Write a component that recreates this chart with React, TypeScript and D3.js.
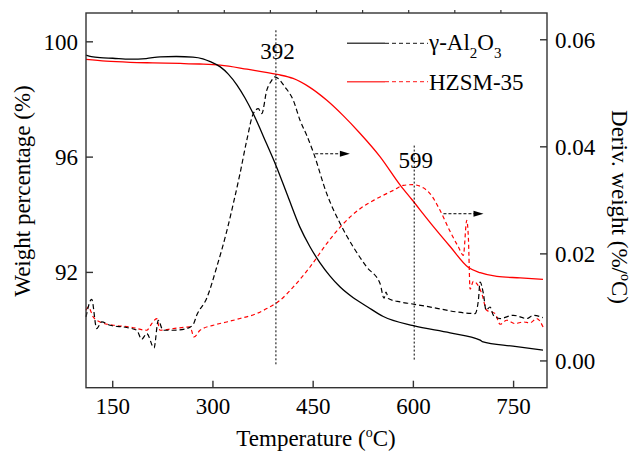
import React from 'react';
import * as d3 from 'd3';

const W = 634;
const H = 451;
const FONT = '"Liberation Serif", "Times New Roman", Times, serif';

// axis ticks
const xTicks = [150, 300, 450, 600, 750];
const yLeftTicks = [92, 96, 100];
const yRightTicks = [0, 0.02, 0.04, 0.06];
const yRightLabels = ['0.00', '0.02', '0.04', '0.06'];
const topDivisions = [1, 2, 3, 4, 5, 6, 7, 8, 9];

// γ-Al2O3 TG (weight %, left axis)
const alTgT = [110, 118, 131, 150, 176, 200, 221, 245, 270, 285, 296, 311, 323, 336, 348, 360, 380, 394, 412, 430, 445, 460, 475, 490, 510, 531, 555, 600, 655, 700, 703, 749, 794];
const alTgW = [99.54, 99.49, 99.45, 99.43, 99.40, 99.42, 99.48, 99.49, 99.47, 99.41, 99.31, 99.13, 98.88, 98.50, 98.05, 97.52, 96.48, 95.73, 94.65, 93.58, 92.90, 92.34, 91.88, 91.50, 91.12, 90.81, 90.47, 90.15, 89.90, 89.65, 89.60, 89.44, 89.30];

// HZSM-35 TG (weight %, left axis)
const hzTgT = [110, 140, 176, 210, 251, 280, 311, 351, 396, 420, 445, 470, 495, 520, 550, 580, 598, 630, 655, 682, 700, 725, 760, 794];
const hzTgW = [99.39, 99.33, 99.29, 99.27, 99.25, 99.23, 99.19, 99.05, 98.87, 98.73, 98.42, 97.98, 97.44, 96.83, 96.02, 95.04, 94.52, 93.59, 92.90, 92.18, 91.99, 91.86, 91.81, 91.76];

// γ-Al2O3 DTG (%/°C, right axis)
const alDtgT = [110, 118.5, 126, 133.5, 146, 171, 186, 193.4, 201, 211.8, 218.2, 225.3, 240.7, 260.7, 270.6, 275.7, 290.7, 305.7, 320.6, 330.5, 340.5, 350.6, 360.4, 367.9, 373, 380.5, 388, 392, 396, 408, 420.3, 430.4, 440.4, 450.3, 470.3, 490.2, 510.1, 530.1, 550.1, 556.1, 559.1, 562.6, 580.1, 595, 629.9, 664.9, 692.3, 697.3, 699.8, 704.8, 708.8, 714.8, 719.7, 729.8, 749.7, 769.7, 779.6, 793.7];
const alDtgD = [0.00821, 0.01152, 0.00605, 0.00728, 0.00667, 0.00624, 0.00573, 0.00405, 0.00512, 0.00243, 0.0076, 0.00573, 0.00573, 0.00605, 0.00685, 0.00853, 0.01171, 0.01755, 0.02421, 0.02939, 0.03499, 0.0412, 0.04619, 0.04712, 0.04619, 0.05054, 0.05241, 0.05306, 0.05290, 0.05116, 0.04868, 0.04494, 0.04214, 0.03896, 0.03125, 0.02571, 0.02128, 0.01755, 0.01445, 0.01171, 0.01288, 0.01165, 0.01102, 0.01072, 0.00997, 0.00915, 0.00885, 0.01133, 0.01475, 0.01258, 0.00947, 0.01008, 0.00853, 0.00792, 0.00853, 0.00792, 0.00853, 0.0081];

// HZSM-35 DTG (%/°C, right axis)
const hzDtgT = [110, 113.4, 120.9, 131, 150.9, 175.9, 200.9, 208.4, 215.8, 220.8, 240.7, 265.7, 271.7, 280.7, 300.6, 320.6, 340.5, 365.5, 380.5, 400.4, 420.3, 445.3, 470.3, 495.2, 520.2, 545.2, 570, 585, 599, 614.9, 624.9, 639.9, 654.9, 667.4, 674.8, 679.9, 682.3, 684.9, 689.8, 694.9, 702.4, 709.8, 722.3, 729.8, 739.8, 752.2, 764.7, 774.7, 784.7, 794.1];
const hzDtgD = [0.00947, 0.01008, 0.00821, 0.00728, 0.00667, 0.00635, 0.00573, 0.00698, 0.00792, 0.00573, 0.00605, 0.00635, 0.00448, 0.00573, 0.00667, 0.00728, 0.00792, 0.00885, 0.00978, 0.01133, 0.01382, 0.01755, 0.02192, 0.02565, 0.02845, 0.03032, 0.03187, 0.0328, 0.03293, 0.03234, 0.03125, 0.02814, 0.02421, 0.02128, 0.01973, 0.02627, 0.02309, 0.01339, 0.01488, 0.01445, 0.01258, 0.00947, 0.00885, 0.00685, 0.0076, 0.00698, 0.00728, 0.00713, 0.00792, 0.00635];

// peak annotations
const peakTemps = [392, 599];
const peakLabels = ['392', '599'];
const peakLineTopW = [100.4, 96.4];
const peakLineBottomD = [-0.0010, 0.0000];
// arrows pointing to the right axis
const arrowStartT = [453, 645];
const arrowEndT = [505, 705];
const arrowD = [0.0387, 0.0275];

const M = { left: 86, right: 547, top: 13, bottom: 387.7 };

export default function App() {
  const x = d3.scaleLinear().domain([110, 800]).range([M.left, M.right]);
  const yL = d3.scaleLinear().domain([88, 101]).range([M.bottom, M.top]);
  const yR = d3.scaleLinear().domain([-0.005, 0.065]).range([M.bottom, M.top]);
  const xTop = d3.scaleLinear().domain([0, 10]).range([M.left, M.right]);

  const lineL = (T: number[], V: number[]) =>
    d3.line<number>().curve(d3.curveMonotoneX).x((_, i) => x(T[i])).y((_, i) => yL(V[i]))(T) || '';
  const lineR = (T: number[], V: number[]) =>
    d3.line<number>().curve(d3.curveMonotoneX).x((_, i) => x(T[i])).y((_, i) => yR(V[i]))(T) || '';

  const axisColor = '#333';
  const tick = 7;
  const fs = 23;

  return (
    <svg width={W} height={H} style={{ position: 'absolute', left: 0, top: 0, background: '#fff' }} fontFamily={FONT}>
      <rect x={0} y={0} width={W} height={H} fill="#fff" />
      {/* curves */}
      <path d={lineL(hzTgT, hzTgW)} fill="none" stroke="#ff0000" strokeWidth={1.3} />
      <path d={lineL(alTgT, alTgW)} fill="none" stroke="#000" strokeWidth={1.3} />
      <path d={lineR(hzDtgT, hzDtgD)} fill="none" stroke="#ff0000" strokeWidth={1.2} strokeDasharray="4,3" />
      <path d={lineR(alDtgT, alDtgD)} fill="none" stroke="#000" strokeWidth={1.2} strokeDasharray="5,3" />

      {/* peak markers */}
      {peakTemps.map((t, i) => (
        <g key={'pk' + i}>
          <line x1={x(t) + 1.5} x2={x(t) + 1.5} y1={yL(peakLineTopW[i])} y2={yR(peakLineBottomD[i])} stroke="#000" strokeWidth={1} strokeDasharray="2,2" />
          <text x={x(t) + 3} y={i === 0 ? 59 : 168} fontSize={fs} textAnchor="middle" fill="#000">{peakLabels[i]}</text>
        </g>
      ))}

      {/* arrows */}
      {arrowStartT.map((t, i) => {
        const xs = x(t), xe = x(arrowEndT[i]), yy = yR(arrowD[i]);
        return (
          <g key={'ar' + i}>
            <line x1={xs} x2={xe - 8} y1={yy} y2={yy} stroke="#000" strokeWidth={1} strokeDasharray="3,2" />
            <path d={`M${xe},${yy} L${xe - 10},${yy - 3} L${xe - 10},${yy + 3} Z`} fill="#000" />
          </g>
        );
      })}

      {/* frame */}
      <rect x={M.left} y={M.top} width={M.right - M.left} height={M.bottom - M.top} fill="none" stroke={axisColor} strokeWidth={1.4} />

      {/* bottom axis */}
      {xTicks.map((t) => (
        <g key={'xt' + t}>
          <line x1={x(t)} x2={x(t)} y1={M.bottom} y2={M.bottom - tick} stroke={axisColor} strokeWidth={1.4} />
          <text x={x(t)} y={414} fontSize={fs} textAnchor="middle" fill="#000">{t}</text>
        </g>
      ))}
      {/* top axis ticks */}
      {topDivisions.map((t) => (
        <line key={'tt' + t} x1={xTop(t)} x2={xTop(t)} y1={M.top} y2={M.top - 3} stroke={axisColor} strokeWidth={1.2} />
      ))}
      {/* left axis */}
      {yLeftTicks.map((v) => (
        <g key={'yl' + v}>
          <line x1={M.left} x2={M.left + tick} y1={yL(v)} y2={yL(v)} stroke={axisColor} strokeWidth={1.4} />
          <text x={78} y={yL(v) + 7.8} fontSize={fs} textAnchor="end" fill="#000">{v}</text>
        </g>
      ))}
      {/* right axis */}
      {yRightTicks.map((v, i) => (
        <g key={'yr' + v}>
          <line x1={M.right} x2={M.right - tick} y1={yR(v)} y2={yR(v)} stroke={axisColor} strokeWidth={1.4} />
          <text x={555} y={yR(v) + 7.8} fontSize={fs} textAnchor="start" fill="#000">{yRightLabels[i]}</text>
        </g>
      ))}

      {/* axis titles */}
      <text x={316} y={446} fontSize={fs} textAnchor="middle" fill="#000">
        Temperature (<tspan fontSize={14} dy={-9}>o</tspan><tspan dy={9}>C)</tspan>
      </text>
      <text transform="translate(30,191) rotate(-90)" fontSize={fs} textAnchor="middle" fill="#000">
        Weight percentage (%)
      </text>
      <text transform="translate(612,207) rotate(90)" fontSize={fs} textAnchor="middle" fill="#000">
        Deriv. weight (%/<tspan fontSize={14} dy={-9}>o</tspan><tspan dy={9}>C)</tspan>
      </text>

      {/* legend */}
      <line x1={347} x2={385} y1={43.3} y2={43.3} stroke="#444" strokeWidth={1.4} />
      <line x1={385} x2={428} y1={43.3} y2={43.3} stroke="#444" strokeWidth={1.2} strokeDasharray="4,3" />
      <text x={429} y={50} fontSize={fs} fill="#000">
        γ-Al<tspan fontSize={15} dy={8}>2</tspan><tspan dy={-8}>O</tspan><tspan fontSize={15} dy={8}>3</tspan>
      </text>
      <line x1={347} x2={385} y1={81.7} y2={81.7} stroke="#ff4444" strokeWidth={1.4} />
      <line x1={385} x2={428} y1={81.7} y2={81.7} stroke="#ff4444" strokeWidth={1.2} strokeDasharray="4,3" />
      <text x={429} y={90} fontSize={fs} fill="#000">HZSM-35</text>
    </svg>
  );
}
